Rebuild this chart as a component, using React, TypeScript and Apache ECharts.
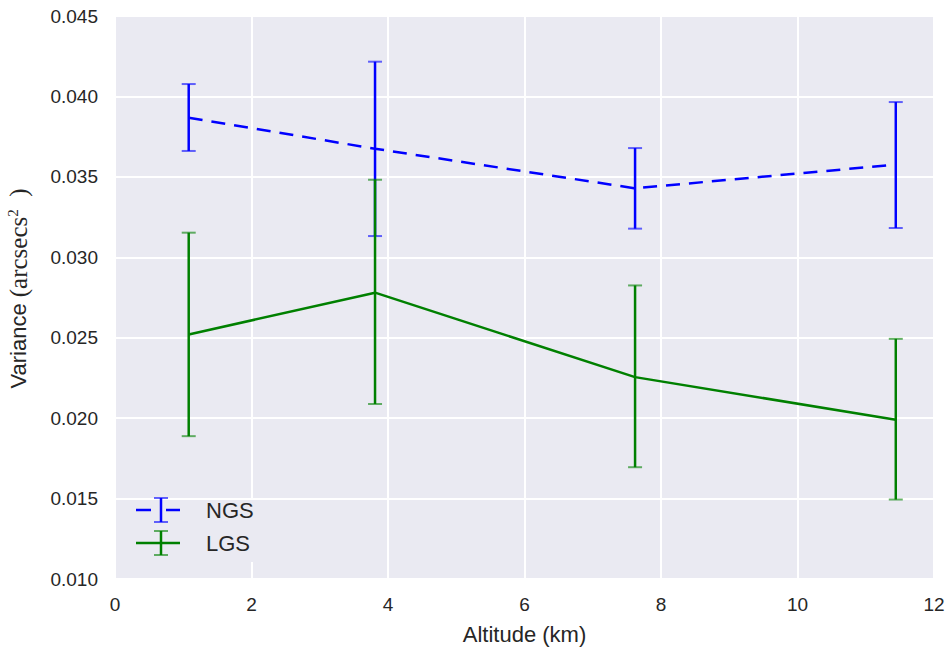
import React, { useEffect, useRef } from "react";
import * as echarts from "echarts";

const altitudes = [1.08, 3.81, 7.62, 11.44];
const ngsMean = [0.03868, 0.03675, 0.03429, 0.03576];
const ngsLow = [0.03661, 0.03132, 0.03178, 0.03182];
const ngsHigh = [0.04077, 0.04216, 0.03679, 0.03965];
const lgsMean = [0.0252, 0.0278, 0.02255, 0.0199];
const lgsLow = [0.01888, 0.02088, 0.01695, 0.01494];
const lgsHigh = [0.03153, 0.03482, 0.02825, 0.02493];
const xTicks = { min: 0, max: 12, interval: 2 };
const yTicks = { min: 0.01, max: 0.045, interval: 0.005 };

const BLUE = "#0000ff";
const GREEN = "#008000";
const TEXT = "#262626";
const BG = "#EAEAF2";
const SANS = "'Liberation Sans', Arial, sans-serif";
const SERIF = "'Liberation Serif', 'Times New Roman', serif";

function errorSeries(name: string, low: number[], high: number[], color: string) {
  return {
    type: "custom",
    name,
    data: altitudes.map((x, i) => [x, low[i], high[i]]),
    encode: { x: 0, y: [1, 2] },
    z: 3,
    renderItem: (params: any, api: any) => {
      const x = api.value(0);
      const top = api.coord([x, api.value(2)]);
      const bot = api.coord([x, api.value(1)]);
      const w = 7;
      return {
        type: "group",
        children: [
          { type: "line", shape: { x1: top[0], y1: top[1], x2: bot[0], y2: bot[1] }, style: { stroke: color, lineWidth: 2.5 } },
          { type: "line", shape: { x1: top[0] - w, y1: top[1], x2: top[0] + w, y2: top[1] }, style: { stroke: color, lineWidth: 2, opacity: 0.6 } },
          { type: "line", shape: { x1: bot[0] - w, y1: bot[1], x2: bot[0] + w, y2: bot[1] }, style: { stroke: color, lineWidth: 2, opacity: 0.6 } },
        ],
      };
    },
  };
}

function legendItems(y: number, label: string, color: string, dashed: boolean) {
  const ls = { stroke: color, lineWidth: 2.5 };
  const cs = { stroke: color, lineWidth: 2, opacity: 0.6 };
  const els: any[] = [];
  if (dashed) {
    els.push({ type: "line", z: 101, shape: { x1: 136, y1: y, x2: 151, y2: y }, style: ls });
    els.push({ type: "line", z: 101, shape: { x1: 166, y1: y, x2: 180, y2: y }, style: ls });
  } else {
    els.push({ type: "line", z: 101, shape: { x1: 136, y1: y, x2: 180, y2: y }, style: ls });
  }
  els.push({ type: "line", z: 101, shape: { x1: 161, y1: y - 12, x2: 161, y2: y + 12 }, style: ls });
  els.push({ type: "line", z: 101, shape: { x1: 154, y1: y - 12, x2: 168, y2: y - 12 }, style: cs });
  els.push({ type: "line", z: 101, shape: { x1: 154, y1: y + 12, x2: 168, y2: y + 12 }, style: cs });
  els.push({
    type: "text",
    z: 101,
    x: 206,
    y,
    style: { text: label, fill: TEXT, font: `22px ${SANS}`, textVerticalAlign: "middle" },
  });
  return els;
}

export default function App() {
  const ref = useRef<HTMLDivElement>(null);
  useEffect(() => {
    if (!ref.current) return;
    const chart = echarts.init(ref.current, undefined, { renderer: "svg" });
    chart.setOption({
      animation: false,
      backgroundColor: "#ffffff",
      grid: {
        left: 115,
        top: 16,
        right: 17,
        bottom: 73,
        show: true,
        backgroundColor: BG,
        borderWidth: 0,
        containLabel: false,
        outerBoundsMode: "none",
      },
      xAxis: {
        type: "value",
        ...xTicks,
        name: "Altitude (km)",
        nameLocation: "middle",
        nameGap: 44,
        nameTextStyle: { color: TEXT, fontSize: 22, fontFamily: SANS },
        axisLine: { show: false },
        axisTick: { show: false },
        axisLabel: { color: TEXT, fontSize: 19, margin: 16, fontFamily: SANS },
        splitLine: { show: true, lineStyle: { color: "#ffffff", width: 2 } },
      },
      yAxis: {
        type: "value",
        ...yTicks,
        name: "{a|Variance }{b|(arcsecs}{c|2}{b|  )}",
        nameLocation: "middle",
        nameGap: 83,
        nameTextStyle: {
          color: TEXT,
          padding: [0, 0, 0, 18],
          rich: {
            a: { fontSize: 22, fontFamily: SANS, color: TEXT },
            b: { fontSize: 25, fontFamily: SERIF, color: TEXT },
            c: { fontSize: 15, fontFamily: SERIF, color: TEXT, padding: [0, 0, 12, 0], verticalAlign: "bottom" },
          },
        },
        axisLine: { show: false },
        axisTick: { show: false },
        axisLabel: {
          color: TEXT,
          fontSize: 19,
          margin: 17,
          fontFamily: SANS,
          formatter: (v: number) => v.toFixed(3),
        },
        splitLine: { show: true, lineStyle: { color: "#ffffff", width: 2 } },
      },
      series: [
        {
          type: "line",
          name: "NGS",
          data: altitudes.map((x, i) => [x, ngsMean[i]]),
          symbol: "none",
          z: 4,
          lineStyle: { color: BLUE, width: 2.5, type: [14, 9] },
        },
        errorSeries("NGS err", ngsLow, ngsHigh, BLUE),
        {
          type: "line",
          name: "LGS",
          data: altitudes.map((x, i) => [x, lgsMean[i]]),
          symbol: "none",
          z: 4,
          lineStyle: { color: GREEN, width: 2.5 },
        },
        errorSeries("LGS err", lgsLow, lgsHigh, GREEN),
      ],
      graphic: [
        { type: "rect", z: 100, shape: { x: 126, y: 500, width: 140, height: 62 }, style: { fill: BG } },
        ...legendItems(510, "NGS", BLUE, true),
        ...legendItems(543, "LGS", GREEN, false),
      ],
    });
    return () => chart.dispose();
  }, []);
  return <div ref={ref} style={{ width: 951, height: 652, position: "absolute", left: 0, top: 0 }} />;
}
